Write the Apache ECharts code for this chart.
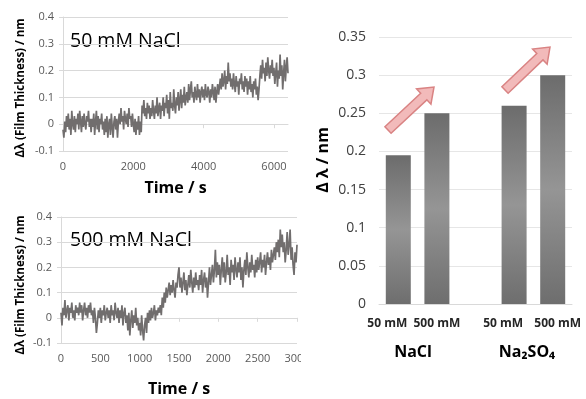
<!DOCTYPE html>
<html>
<head>
<meta charset="utf-8">
<script src="https://cdn.jsdelivr.net/npm/echarts@6/dist/echarts.min.js"></script>
<style>
  html, body { margin: 0; padding: 0; background: #fff; }
  #main { width: 586px; height: 399px; }
</style>
</head>
<body>
<div id="main"></div>
<script>
// 50 mM NaCl trace, one value every 25 s from 0 to 6400 s
const step50 = 25;
const trace50 = [
  -0.02, -0.05, 0.01, -0.03, 0.03, -0.01, 0.04, -0.02, 0.02, -0.04, 0.05, 0.00, -0.02, 0.03, -0.03, 0.02,
  0.00, 0.04, -0.02, 0.05, 0.01, -0.03, 0.03, -0.01, 0.04, 0.00, -0.02, 0.03, 0.01, 0.05, -0.01, 0.02,
  -0.03, 0.02, -0.01, 0.04, -0.04, 0.01, 0.05, -0.02, 0.03, -0.03, 0.02, 0.00, 0.04, -0.02, 0.01, -0.04,
  0.02, -0.03, 0.03, -0.05, 0.00, 0.02, -0.04, 0.04, -0.01, -0.05, 0.01, 0.03, -0.02, 0.02, -0.05, 0.01,
  0.04, 0.00, 0.06, 0.01, 0.03, -0.02, 0.05, 0.02, 0.00, 0.04, -0.01, 0.06, 0.02, 0.03, -0.01, 0.04,
  0.00, -0.03, 0.02, -0.04, 0.01, -0.02, 0.03, -0.04, 0.01, -0.03, 0.07, 0.04, 0.09, 0.03, 0.06, 0.02,
  0.08, 0.04, 0.07, 0.02, 0.06, 0.03, 0.09, 0.05, 0.02, 0.07, 0.04, 0.10, 0.03, 0.06, 0.08, 0.02,
  0.07, 0.05, 0.10, 0.03, 0.08, 0.06, 0.11, 0.04, 0.09, 0.02, 0.12, 0.06, 0.08, 0.05, 0.13, 0.07,
  0.04, 0.10, 0.07, 0.12, 0.05, 0.09, 0.13, 0.06, 0.11, 0.08, 0.14, 0.07, 0.10, 0.12, 0.08, 0.15,
  0.09, 0.13, 0.16, 0.10, 0.12, 0.08, 0.14, 0.11, 0.09, 0.15, 0.10, 0.13, 0.08, 0.12, 0.14, 0.10,
  0.13, 0.09, 0.15, 0.11, 0.10, 0.14, 0.12, 0.08, 0.13, 0.10, 0.15, 0.12, 0.09, 0.14, 0.08, 0.12,
  0.15, 0.11, 0.14, 0.17, 0.13, 0.19, 0.14, 0.16, 0.20, 0.13, 0.18, 0.15, 0.23, 0.16, 0.19, 0.14,
  0.17, 0.13, 0.19, 0.15, 0.12, 0.18, 0.14, 0.16, 0.11, 0.17, 0.15, 0.19, 0.13, 0.16, 0.12, 0.18,
  0.14, 0.17, 0.11, 0.16, 0.13, 0.18, 0.12, 0.15, 0.10, 0.16, 0.13, 0.17, 0.11, 0.14, 0.09, 0.13,
  0.18, 0.22, 0.17, 0.24, 0.19, 0.21, 0.16, 0.23, 0.18, 0.25, 0.20, 0.17, 0.22, 0.19, 0.24, 0.18,
  0.21, 0.15, 0.19, 0.23, 0.14, 0.20, 0.17, 0.26, 0.18, 0.22, 0.13, 0.19, 0.24, 0.16, 0.21, 0.25,
  0.19
];
// 500 mM NaCl trace, one value every 12.5 s from 0 to 3000 s
const step500 = 12.5;
const trace500 = [
  0.02, -0.03, 0.04, 0.01, 0.07, 0.00, 0.03, 0.05, -0.01, 0.04, 0.02, 0.06, 0.00, 0.03, -0.01, 0.05, 0.02, 0.04, 0.01, 0.06,
  0.02, 0.05, -0.01, 0.03, 0.06, 0.01, 0.04, 0.00, 0.05, 0.02, 0.06, 0.01, 0.03, -0.02, 0.04, 0.00, -0.06, -0.02, 0.03, 0.00,
  0.04, -0.02, 0.03, 0.01, 0.05, -0.01, 0.02, 0.04, 0.00, 0.03, -0.02, 0.05, 0.01, 0.03, -0.01, 0.06, 0.02, 0.00, 0.04, -0.02,
  0.03, 0.00, 0.05, -0.03, 0.02, 0.04, -0.02, 0.01, -0.05, 0.02, -0.07, -0.01, 0.03, -0.04, 0.01, -0.02, 0.04, -0.03, 0.00, -0.05,
  -0.02, -0.07, 0.01, -0.05, -0.09, -0.03, 0.00, -0.06, 0.02, -0.02, 0.03, -0.01, 0.04, 0.00, 0.02, 0.05, -0.01, 0.03, 0.01, 0.04,
  0.02, 0.05, 0.01, 0.08, 0.04, 0.10, 0.06, 0.12, 0.08, 0.11, 0.14, 0.09, 0.13, 0.10, 0.15, 0.11, 0.08, 0.14, 0.12, 0.17,
  0.20, 0.12, 0.16, 0.10, 0.14, 0.18, 0.11, 0.15, 0.09, 0.13, 0.17, 0.12, 0.19, 0.14, 0.10, 0.16, 0.12, 0.18, 0.13, 0.15,
  0.11, 0.17, 0.13, 0.19, 0.10, 0.15, 0.18, 0.12, 0.16, 0.08, 0.14, 0.20, 0.13, 0.17, 0.21, 0.14, 0.19, 0.27, 0.16, 0.22,
  0.17, 0.21, 0.13, 0.19, 0.24, 0.16, 0.22, 0.14, 0.18, 0.25, 0.17, 0.20, 0.13, 0.23, 0.18, 0.21, 0.15, 0.24, 0.19, 0.16,
  0.22, 0.18, 0.24, 0.15, 0.20, 0.12, 0.19, 0.23, 0.17, 0.26, 0.20, 0.16, 0.22, 0.18, 0.25, 0.19, 0.21, 0.16, 0.23, 0.18,
  0.24, 0.19, 0.22, 0.26, 0.18, 0.23, 0.20, 0.25, 0.17, 0.22, 0.26, 0.21, 0.24, 0.19, 0.27, 0.22, 0.25, 0.28, 0.23, 0.30,
  0.26, 0.31, 0.24, 0.35, 0.28, 0.33, 0.26, 0.30, 0.22, 0.27, 0.34, 0.25, 0.29, 0.35, 0.23, 0.28, 0.21, 0.17, 0.26, 0.22,
  0.29
];
// bar chart
const barLabels = ['50 mM', '500 mM', '', '50 mM', '500 mM'];
const barValues = [0.195, 0.25, null, 0.26, 0.30];
const groupLabels = ['NaCl', 'Na₂SO₄'];

const font = '"Open Sans", sans-serif';
const gray = '#595959';
const gridGray = '#d9d9d9';

const toPairs = (vals, step) => vals.map((v, i) => [i * step, v]);

function arrow(x1, y1, x2, y2) {
  const dx = x2 - x1, dy = y2 - y1;
  const len = Math.sqrt(dx * dx + dy * dy);
  const ux = dx / len, uy = dy / len;
  const nx = -uy, ny = ux;
  const hw = 4.5, hh = 10.5, hl = 14;
  const bx = x2 - ux * hl, by = y2 - uy * hl;
  return {
    type: 'polygon',
    z: 10,
    shape: {
      points: [
        [x1 + nx * hw, y1 + ny * hw],
        [bx + nx * hw, by + ny * hw],
        [bx + nx * hh, by + ny * hh],
        [x2, y2],
        [bx - nx * hh, by - ny * hh],
        [bx - nx * hw, by - ny * hw],
        [x1 - nx * hw, y1 - ny * hw]
      ]
    },
    style: { fill: '#f2baba', stroke: '#d98383', lineWidth: 1.5 }
  };
}

const lineAxisX = (grid, max, interval, name, gap) => ({
  type: 'value', gridIndex: grid, min: 0, max: max, interval: interval,
  name: name, nameLocation: 'middle', nameGap: gap,
  nameTextStyle: { fontFamily: font, fontWeight: 'bold', fontSize: 16, color: '#000' },
  axisLine: { show: true, lineStyle: { color: gridGray } },
  axisTick: { show: true, length: 4, lineStyle: { color: gridGray } },
  axisLabel: { fontFamily: font, fontSize: 11, color: gray, margin: 10, formatter: v => String(v) },
  splitLine: { show: false }
});
const lineAxisY = (grid) => ({
  type: 'value', gridIndex: grid, min: -0.1, max: 0.4, interval: 0.1,
  axisLine: { show: true, lineStyle: { color: gridGray } },
  axisTick: { show: true, length: 4, lineStyle: { color: gridGray } },
  axisLabel: { fontFamily: font, fontSize: 11, color: gray, margin: 9 },
  splitLine: { show: true, lineStyle: { color: gridGray } }
});

const barLabelStyle = { fontFamily: font, fontWeight: 'bold', fontSize: 12, color: '#262626' };

const myChart = echarts.init(document.getElementById('main'));
myChart.setOption({
  animation: false,
  backgroundColor: '#fff',
  grid: [
    { left: 63, top: 17, width: 225, height: 134 },
    { left: 61, top: 217, width: 236, height: 126 },
    { left: 379, top: 37, width: 193, height: 267 }
  ],
  xAxis: [
    lineAxisX(0, 6400, 2000, 'Time / s', 29),
    lineAxisX(1, 3000, 500, 'Time / s', 38),
    {
      type: 'category', gridIndex: 2, data: barLabels,
      axisLine: { show: true, lineStyle: { color: gridGray } },
      axisTick: { show: false },
      axisLabel: {
        margin: 14, interval: 0,
        formatter: (v, i) => (i === 0 || i === 3) ? '{l|' + v + '}' : (i === 4 ? '{r|' + v + '}' : '{c|' + v + '}'),
        rich: {
          l: Object.assign({ padding: [0, 22, 0, 0] }, barLabelStyle),
          c: Object.assign({}, barLabelStyle),
          r: Object.assign({ padding: [0, 0, 0, 10] }, barLabelStyle)
        }
      }
    }
  ],
  yAxis: [
    lineAxisY(0),
    lineAxisY(1),
    {
      type: 'value', gridIndex: 2, min: 0, max: 0.35, interval: 0.05,
      axisLine: { show: false },
      axisTick: { show: false },
      axisLabel: { fontFamily: font, fontSize: 14, color: '#404040', margin: 13 },
      splitLine: { show: true, lineStyle: { color: '#e6e6e6' } }
    }
  ],
  series: [
    {
      type: 'line', xAxisIndex: 0, yAxisIndex: 0, data: toPairs(trace50, step50),
      showSymbol: false, lineStyle: { color: '#716e6e', width: 1.7 }
    },
    {
      type: 'line', xAxisIndex: 1, yAxisIndex: 1, data: toPairs(trace500, step500),
      showSymbol: false, lineStyle: { color: '#716e6e', width: 1.7 }
    },
    {
      type: 'bar', xAxisIndex: 2, yAxisIndex: 2, data: barValues, barWidth: 25,
      itemStyle: {
        color: new echarts.graphic.LinearGradient(0, 0, 0, 1, [
          { offset: 0, color: '#6c6c6c' },
          { offset: 0.5, color: '#959595' },
          { offset: 1, color: '#6e6e6e' }
        ])
      }
    }
  ],
  graphic: [
    { type: 'text', x: 70, y: 41, style: { text: '50 mM NaCl', font: '19.5px "Open Sans", sans-serif', fill: '#000', verticalAlign: 'middle' } },
    { type: 'text', x: 70, y: 240, style: { text: '500 mM NaCl', font: '19.5px "Open Sans", sans-serif', fill: '#000', verticalAlign: 'middle' } },
    { type: 'text', x: 21, y: 88, rotation: Math.PI / 2, style: { text: 'Δλ (Film Thickness) / nm', font: 'bold 11.5px "Open Sans", sans-serif', fill: '#000', align: 'center', verticalAlign: 'middle' } },
    { type: 'text', x: 21, y: 285, rotation: Math.PI / 2, style: { text: 'Δλ (Film Thickness) / nm', font: 'bold 11.5px "Open Sans", sans-serif', fill: '#000', align: 'center', verticalAlign: 'middle' } },
    { type: 'text', x: 323, y: 160, rotation: Math.PI / 2, style: { text: 'Δ λ / nm', font: 'bold 16px "Open Sans", sans-serif', fill: '#000', align: 'center', verticalAlign: 'middle' } },
    { type: 'text', x: 413, y: 352, style: { text: groupLabels[0], font: 'bold 16px "Open Sans", sans-serif', fill: '#000', align: 'center', verticalAlign: 'middle' } },
    { type: 'text', x: 527, y: 352, style: { text: groupLabels[1], font: 'bold 16px "Open Sans", sans-serif', fill: '#000', align: 'center', verticalAlign: 'middle' } },
    // the right panel hides the tail of the last tick label
    { type: 'rect', z: 20, shape: { x: 301, y: 346, width: 12, height: 20 }, style: { fill: '#fff' } },
    arrow(388, 130, 434, 87),
    arrow(505, 90, 550, 47)
  ]
});
</script>
</body>
</html>
